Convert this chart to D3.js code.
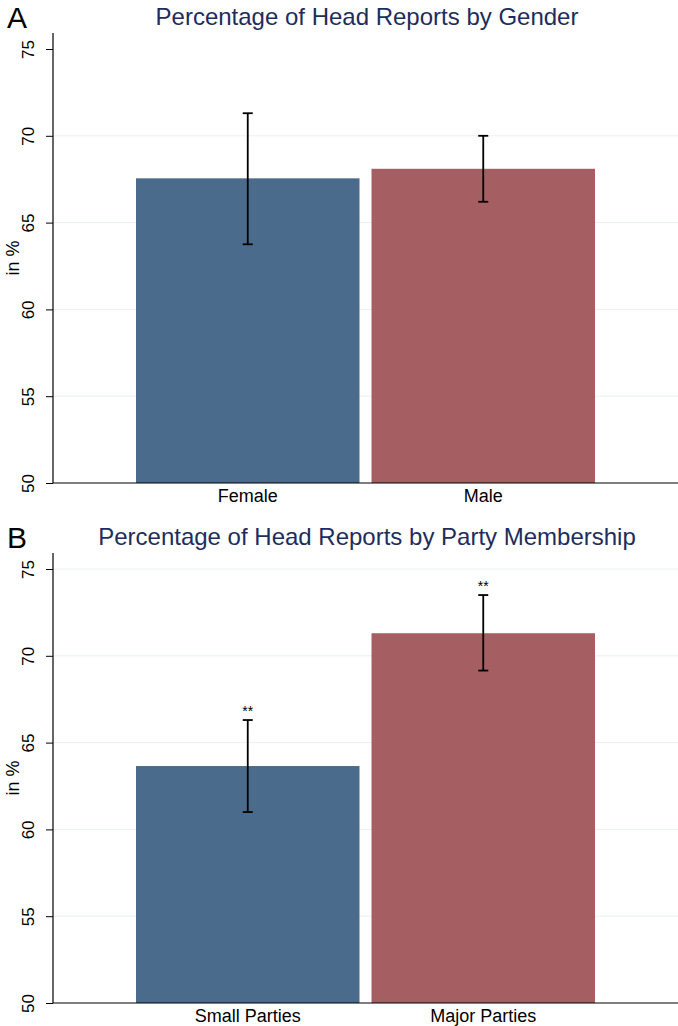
<!DOCTYPE html>
<html>
<head>
<meta charset="utf-8">
<script src="https://cdn.jsdelivr.net/npm/d3@7"></script>
<style>
  body { margin: 0; background: #fff; }
  svg { font-family: "Liberation Sans", Arial, sans-serif; }
</style>
</head>
<body>
<svg id="chart" width="678" height="1026"></svg>
<script>
// Panel A: by gender
const genderCats = ['Female', 'Male'];
const genderMeans = [67.55, 68.1];
const genderLow = [63.75, 66.2];
const genderHigh = [71.3, 70.0];
const genderStars = ['', ''];
const genderGrid = [55, 60, 65, 70];

// Panel B: by party membership
const partyCats = ['Small Parties', 'Major Parties'];
const partyMeans = [63.65, 71.3];
const partyLow = [61.0, 69.15];
const partyHigh = [66.3, 73.5];
const partyStars = ['**', '**'];
const partyGrid = [55, 60, 65, 70, 75];

const yTicks = [50, 55, 60, 65, 70, 75];
const barColors = ['#4a6b8b', '#a55e62'];

const svg = d3.select('#chart');

function drawPanel(top, letter, title, cats, means, low, high, stars, grid) {
    const left = 53, right = 678;
    const y0 = top + 483, y75 = top + 49;
    const g = svg.append('g');

    const y = d3.scaleLinear().domain([50, 75]).range([y0, y75]);
    const x = d3.scaleBand().domain(cats).range([136, 595]).paddingInner(0.051);

    // gridlines
    g.selectAll('line.grid')
        .data(grid)
        .enter()
        .append('line')
        .attr('x1', left).attr('x2', right)
        .attr('y1', d => y(d)).attr('y2', d => y(d))
        .attr('stroke', '#e8f0f2')
        .attr('stroke-width', 1);

    // bars
    g.selectAll('rect')
        .data(cats)
        .enter()
        .append('rect')
        .attr('x', d => x(d))
        .attr('width', x.bandwidth())
        .attr('y', (d, i) => y(means[i]))
        .attr('height', (d, i) => y0 - y(means[i]))
        .attr('fill', (d, i) => barColors[i]);

    // error bars
    cats.forEach((c, i) => {
        const cx = x(c) + x.bandwidth() / 2;
        g.append('line')
            .attr('x1', cx).attr('x2', cx)
            .attr('y1', y(low[i])).attr('y2', y(high[i]))
            .attr('stroke', '#000').attr('stroke-width', 1.8);
        [low[i], high[i]].forEach(v => {
            g.append('line')
                .attr('x1', cx - 5).attr('x2', cx + 5)
                .attr('y1', y(v)).attr('y2', y(v))
                .attr('stroke', '#000').attr('stroke-width', 1.8);
        });
        if (stars[i]) {
            g.append('text')
                .attr('x', cx).attr('y', y(high[i]) - 4)
                .attr('text-anchor', 'middle')
                .attr('font-size', 14)
                .text(stars[i]);
        }
    });

    // y axis
    const yAxis = g.append('g')
        .attr('transform', `translate(${left},0)`)
        .call(d3.axisLeft(y).tickValues(yTicks).tickSize(7).tickSizeOuter(0));
    yAxis.select('.domain').remove();
    yAxis.selectAll('.tick line').attr('stroke', '#000');
    yAxis.selectAll('.tick text')
        .attr('transform', 'rotate(-90)')
        .attr('x', 0)
        .attr('y', -19)
        .attr('dy', 0)
        .attr('text-anchor', 'middle')
        .attr('font-size', 17)
        .attr('font-family', '"Liberation Sans", Arial, sans-serif')
        .attr('fill', '#000');
    g.append('line')
        .attr('x1', left).attr('x2', left)
        .attr('y1', top + 33).attr('y2', y0)
        .attr('stroke', '#000').attr('stroke-width', 1.2);

    // x axis
    g.append('line')
        .attr('x1', left).attr('x2', right)
        .attr('y1', y0).attr('y2', y0)
        .attr('stroke', '#000').attr('stroke-width', 1.2);
    g.selectAll('text.xlab')
        .data(cats)
        .enter()
        .append('text')
        .attr('x', d => x(d) + x.bandwidth() / 2)
        .attr('y', y0 + 19)
        .attr('text-anchor', 'middle')
        .attr('font-size', 18)
        .text(d => d);

    // y label
    g.append('text')
        .attr('transform', `translate(19,${(y0 + top + 33) / 2}) rotate(-90)`)
        .attr('text-anchor', 'middle')
        .attr('font-size', 18)
        .text('in %');

    // title and panel letter
    g.append('text')
        .attr('x', 367).attr('y', top + 25)
        .attr('text-anchor', 'middle')
        .attr('font-size', 24)
        .attr('fill', '#1e2d5c')
        .text(title);
    g.append('text')
        .attr('x', 7).attr('y', top + 28)
        .attr('font-size', 30)
        .attr('fill', '#000')
        .text(letter);
}

drawPanel(0, 'A', 'Percentage of Head Reports by Gender',
    genderCats, genderMeans, genderLow, genderHigh, genderStars, genderGrid);
drawPanel(520, 'B', 'Percentage of Head Reports by Party Membership',
    partyCats, partyMeans, partyLow, partyHigh, partyStars, partyGrid);
</script>
</body>
</html>
